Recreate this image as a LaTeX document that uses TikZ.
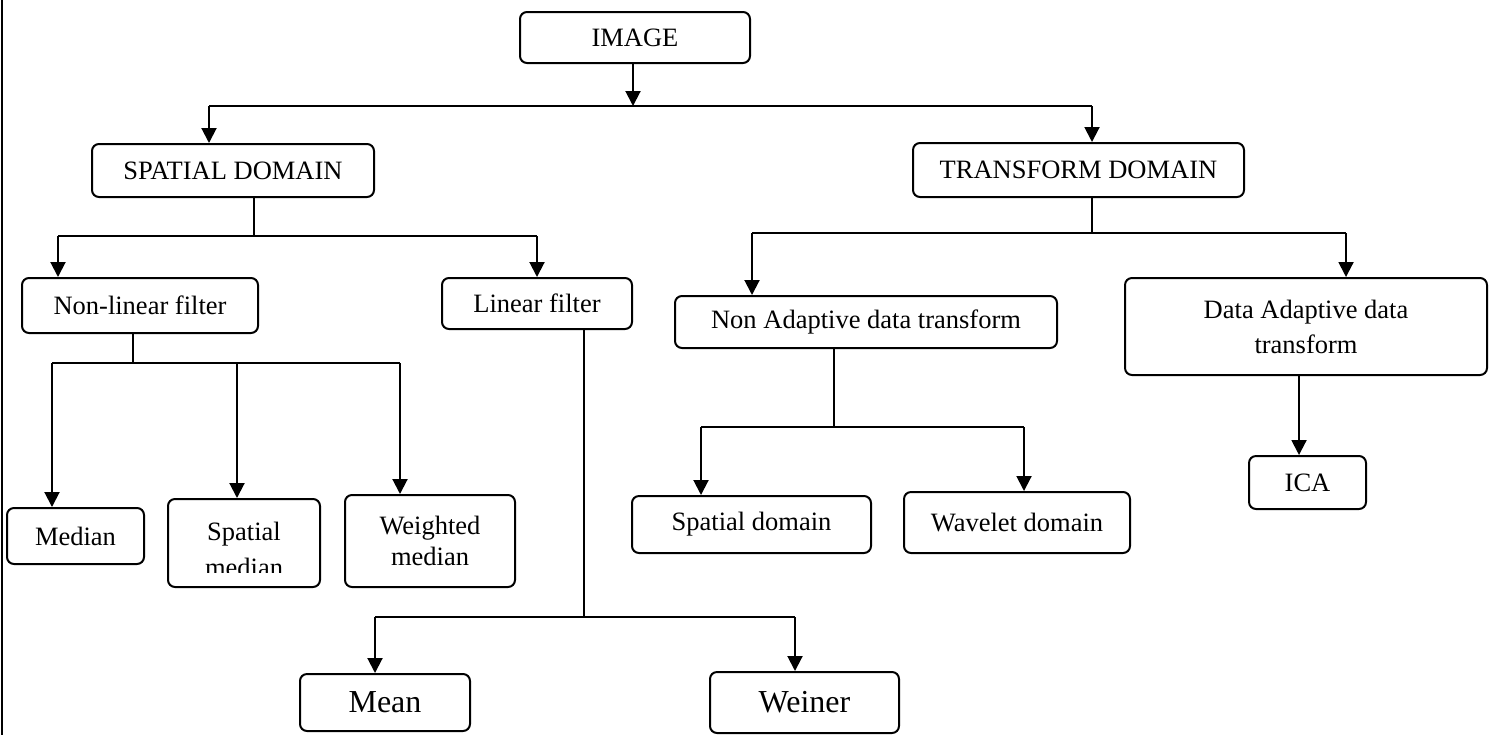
\documentclass[tikz,border=0pt]{standalone}
\usepackage{fontspec}
\setmainfont{Liberation Serif}
\usetikzlibrary{arrows.meta}
\begin{document}
\begin{tikzpicture}[x=0.5pt,y=-0.5pt,
  box/.style={draw, line width=1pt, rounded corners=3.5pt, inner sep=0pt, align=center,
    font=\fontsize{13.25}{15.5}\selectfont},
  bigtext/.style={font=\fontsize{16}{19}\selectfont},
  txt/.style={inner sep=0pt, align=center, font=\fontsize{13.25}{18}\selectfont},
  bar/.style={line width=1pt},
  stem/.style={line width=0.65pt},
  arr/.style={line width=1pt, -{Triangle[width=7.5pt,length=7.5pt]}}]
\useasboundingbox (0,0) rectangle (1491,735);
\draw[line width=1.3pt] (2,0) -- (2,735);

% nodes
\node[box, minimum width=115pt, minimum height=25.5pt] (img) at (635,37.5) {IMAGE};
\node[box, minimum width=141pt, minimum height=26.5pt] (sd) at (233,170.5) {SPATIAL DOMAIN};
\node[box, minimum width=165.5pt, minimum height=27pt] (td) at (1078.5,170) {TRANSFORM DOMAIN};
\node[box, minimum width=118pt, minimum height=27.5pt] (nlf) at (140,305.5) {Non-linear filter};
\node[box, minimum width=95pt, minimum height=25.5pt] (lf) at (537,303.5) {Linear filter};
\node[box, minimum width=191pt, minimum height=26pt] (nad) at (866,322) {Non Adaptive data transform};
\node[box, minimum width=181pt, minimum height=48.5pt, font=\fontsize{13.25}{17.5}\selectfont] (dad) at (1306,326.5) {Data Adaptive data\\transform};
\node[box, minimum width=68.5pt, minimum height=28pt] (med) at (75.5,536) {Median};
\node[box, minimum width=76pt, minimum height=44pt] (smed) at (244,543) {};
\begin{scope}
  \clip (172,502) rectangle (316,572);
  \node[txt, anchor=base] (smedt) at (244,576) {Spatial\\median};
\end{scope}
\node[box, minimum width=85pt, minimum height=46pt] (wmed) at (430,541) {Weighted\\median};
\node[box, bigtext, minimum width=85pt, minimum height=28.5pt] (mean) at (385,702.5) {Mean};
\node[box, bigtext, minimum width=94.5pt, minimum height=30.5pt] (wein) at (804.5,702.5) {Weiner};
\node[box, minimum width=119.5pt, minimum height=28.5pt] (sdom) at (751.5,524.5) {Spatial domain};
\node[box, minimum width=113pt, minimum height=30.5pt] (wdom) at (1017,522.5) {Wavelet domain};
\node[box, minimum width=58.5pt, minimum height=26.5pt] (ica) at (1307.5,482.5) {ICA};

% junction coordinates
\coordinate (h0) at (633,106);
\coordinate (h0l) at (209,106);
\coordinate (h0r) at (1092,106);
\coordinate (h1) at (254,236);
\coordinate (h1l) at (58,236);
\coordinate (h1r) at (537,236);
\coordinate (h2) at (1092,233);
\coordinate (h2l) at (752,233);
\coordinate (h2r) at (1346,233);
\coordinate (h3) at (133,363);
\coordinate (h3l) at (52,363);
\coordinate (h3m) at (237,363);
\coordinate (h3r) at (400,363);
\coordinate (h4) at (584,617);
\coordinate (h4l) at (375,617);
\coordinate (h4r) at (795,617);
\coordinate (h5) at (834,427);
\coordinate (h5l) at (701,427);
\coordinate (h5r) at (1024,427);
\coordinate (h6) at (1299,0);

% IMAGE level
\draw[arr] (h0 |- img.south) -- (h0);
\draw[bar] (h0l) -- (h0r);
\draw[arr] (h0l) -- (h0l |- sd.north);
\draw[arr] (h0r) -- (h0r |- td.north);

% spatial domain
\draw[stem] (h1 |- sd.south) -- (h1);
\draw[bar] (h1l) -- (h1r);
\draw[arr] (h1l) -- (h1l |- nlf.north);
\draw[arr] (h1r) -- (h1r |- lf.north);

% transform domain
\draw[stem] (h2 |- td.south) -- (h2);
\draw[bar] (h2l) -- (h2r);
\draw[arr] (h2l) -- (h2l |- nad.north);
\draw[arr] (h2r) -- (h2r |- dad.north);

% non-linear filter
\draw[stem] (h3 |- nlf.south) -- (h3);
\draw[bar] (h3l) -- (h3r);
\draw[arr] (h3l) -- (h3l |- med.north);
\draw[arr] (h3m) -- (h3m |- smed.north);
\draw[arr] (h3r) -- (h3r |- wmed.north);

% linear filter
\draw[stem] (h4 |- lf.south) -- (h4);
\draw[bar] (h4l) -- (h4r);
\draw[arr] (h4l) -- (h4l |- mean.north);
\draw[arr] (h4r) -- (h4r |- wein.north);

% non adaptive
\draw[stem] (h5 |- nad.south) -- (h5);
\draw[bar] (h5l) -- (h5r);
\draw[arr] (h5l) -- (h5l |- sdom.north);
\draw[arr] (h5r) -- (h5r |- wdom.north);

% data adaptive
\draw[arr] (h6 |- dad.south) -- (h6 |- ica.north);
\end{tikzpicture}
\end{document}
